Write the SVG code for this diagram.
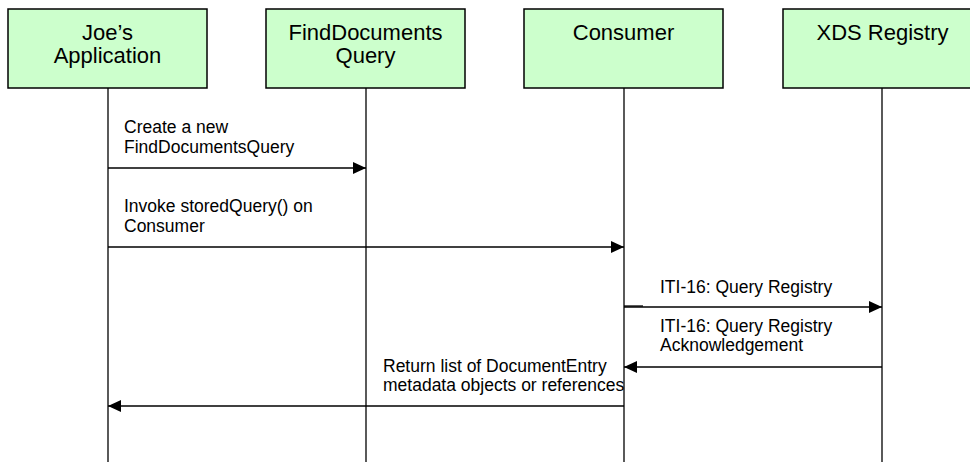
<svg xmlns="http://www.w3.org/2000/svg" width="970" height="462" viewBox="0 0 970 462">
<style>
.box{fill:#ccffcc;stroke:#000;stroke-width:1.5}
.life{stroke:#000;stroke-width:1.3;fill:none}
.msg{stroke:#000;stroke-width:1.3;fill:none}
.ttl{font-family:"Liberation Sans",Arial,sans-serif;font-size:22px;fill:#000;text-anchor:middle}
.lbl{font-family:"Liberation Sans",Arial,sans-serif;font-size:17.5px;fill:#000}
</style>
<defs>
<marker id="ah" viewBox="0 0 13 12" refX="13" refY="6" markerWidth="13" markerHeight="12" markerUnits="userSpaceOnUse" orient="auto">
<path d="M0,0 L13,6 L0,12 Z" fill="#000"/>
</marker>
</defs>
<rect width="970" height="462" fill="#fff"/>
<g id="joes-application">
<rect class="box" x="8" y="9" width="199" height="79"/>
<text class="ttl" x="107.5" y="40">Joe’s</text>
<text class="ttl" x="107.5" y="63">Application</text>
<line class="life" x1="108" y1="88" x2="108" y2="462"/>
</g>
<g id="find-documents-query">
<rect class="box" x="266" y="9" width="199" height="79"/>
<text class="ttl" x="365.5" y="40">FindDocuments</text>
<text class="ttl" x="365.5" y="63">Query</text>
<line class="life" x1="366" y1="88" x2="366" y2="462"/>
</g>
<g id="consumer">
<rect class="box" x="524" y="9" width="199" height="79"/>
<text class="ttl" x="623.5" y="40">Consumer</text>
<line class="life" x1="624" y1="88" x2="624" y2="462"/>
</g>
<g id="xds-registry">
<rect class="box" x="783" y="9" width="199" height="79"/>
<text class="ttl" x="882.5" y="40">XDS Registry</text>
<line class="life" x1="882" y1="88" x2="882" y2="462"/>
</g>
<g id="connectors">
<line class="msg" x1="108" y1="168" x2="366" y2="168" marker-end="url(#ah)"/>
<line class="msg" x1="108" y1="247" x2="624" y2="247" marker-end="url(#ah)"/>
<line class="msg" x1="624" y1="306" x2="643" y2="306"/>
<line class="msg" x1="624" y1="307" x2="882" y2="307" marker-end="url(#ah)"/>
<line class="msg" x1="882" y1="367" x2="624" y2="367" marker-end="url(#ah)"/>
<line class="msg" x1="624" y1="406" x2="108" y2="406" marker-end="url(#ah)"/>
</g>
<g id="labels">
<text class="lbl" x="124" y="133">Create a new</text>
<text class="lbl" x="124" y="153">FindDocumentsQuery</text>
<text class="lbl" x="124" y="212">Invoke storedQuery() on</text>
<text class="lbl" x="124" y="232">Consumer</text>
<text class="lbl" x="660" y="293">ITI-16: Query Registry</text>
<text class="lbl" x="660" y="332">ITI-16: Query Registry</text>
<text class="lbl" x="660" y="351">Acknowledgement</text>
<text class="lbl" x="383" y="372">Return list of DocumentEntry</text>
<text class="lbl" x="383" y="391">metadata objects or references</text>
</g>
</svg>
